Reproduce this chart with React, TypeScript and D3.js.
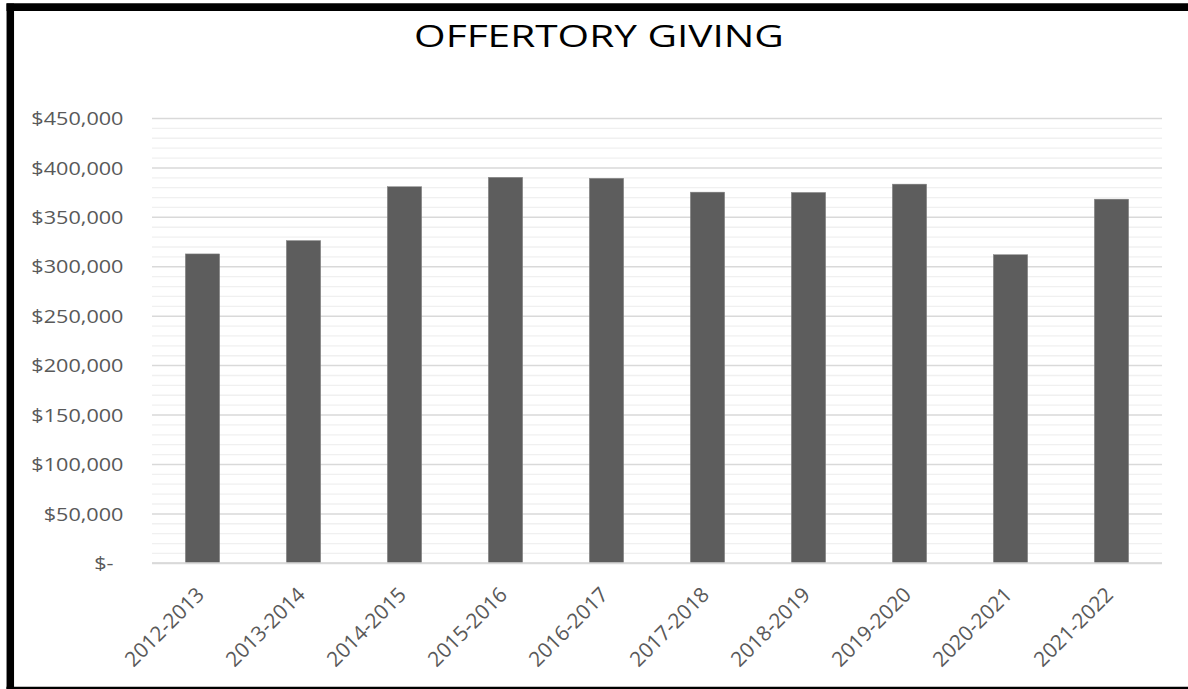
import React from "react";
import * as d3 from "d3";

const categories = [
  "2012-2013", "2013-2014", "2014-2015", "2015-2016", "2016-2017",
  "2017-2018", "2018-2019", "2019-2020", "2020-2021", "2021-2022",
];
const values = [313000, 326500, 381000, 390500, 389500, 375500, 375200, 383600, 312200, 368400];
const yTicks = [0, 50000, 100000, 150000, 200000, 250000, 300000, 350000, 400000, 450000];
const yTickLabels = ["$-", "$50,000", "$100,000", "$150,000", "$200,000", "$250,000", "$300,000", "$350,000", "$400,000", "$450,000"];
const minorTicks = d3.range(0, 450001, 10000);
const title = "OFFERTORY GIVING";

const W = 1188;
const H = 689;
const left = 152;
const right = 1162;
const top = 118.5;
const bottom = 563.3;
const FONT = "'Open Sans', 'Noto Sans', sans-serif";

export default function App() {
  const x = d3.scaleBand<string>().domain(categories).range([left, right]).paddingInner(0.66).paddingOuter(0.33);
  const y = d3.scaleLinear().domain([0, 450000]).range([bottom, top]);

  return (
    <svg width={W} height={H} style={{ position: "absolute", left: 0, top: 0, background: "#fff" }}>
      <rect x={0} y={0} width={W} height={H} fill="#fff" />
      {minorTicks.filter((t) => t % 50000 !== 0).map((t) => (
        <line key={"m" + t} x1={left} x2={right} y1={y(t)} y2={y(t)} stroke="#f0f0f0" strokeWidth={1.3} />
      ))}
      {yTicks.map((t) => (
        <line key={"g" + t} x1={left} x2={right} y1={y(t)} y2={y(t)} stroke="#d9d9d9" strokeWidth={1.5} />
      ))}
      {values.map((v, i) => (
        <rect
          key={categories[i]}
          x={x(categories[i])}
          y={y(v)}
          width={x.bandwidth()}
          height={y(0) - y(v)}
          fill="#5d5d5d"
          stroke="#8a8a8a"
          strokeWidth={0.5}
        />
      ))}
      <line x1={left} x2={right} y1={y(0)} y2={y(0)} stroke="#d9d9d9" strokeWidth={2} />
      {yTicks.map((t, i) => (
        <text
          key={"t" + t}
          transform={`translate(${t === 0 ? 113.5 : 123.5},${y(t)}) scale(1.17,1)`}
          x={0}
          y={0}
          dy="0.36em"
          textAnchor="end"
          fontFamily={FONT}
          fontSize={18.5}
          fill="#595959"
        >
          {yTickLabels[i]}
        </text>
      ))}
      {categories.map((c) => {
        const cx = (x(c) as number) + x.bandwidth() / 2;
        return (
          <text
            key={"c" + c}
            transform={`translate(${cx + 3},${596}) rotate(-45)`}
            textAnchor="end"
            fontFamily={FONT}
            fontSize={20.8}
            fill="#595959"
          >
            {c}
          </text>
        );
      })}
      <text
        transform="translate(599,46.5) scale(1.31,1)"
        x={0}
        y={0}
        textAnchor="middle"
        fontFamily={FONT}
        fontSize={31}
        fill="#000"
      >
        {title}
      </text>
      <line x1={6.5} x2={W} y1={7.2} y2={7.2} stroke="#000" strokeWidth={7.7} />
      <line x1={10.3} x2={10.3} y1={3.4} y2={H} stroke="#000" strokeWidth={7.5} />
      <line x1={6.5} x2={W} y1={690.5} y2={690.5} stroke="#000" strokeWidth={7.5} />
    </svg>
  );
}
